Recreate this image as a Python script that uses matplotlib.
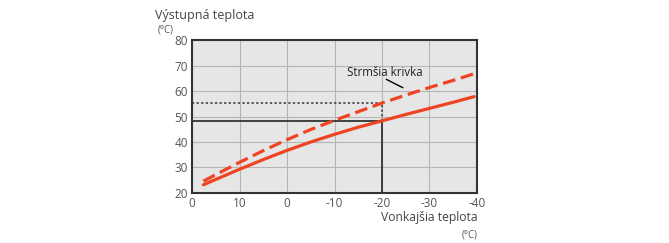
import matplotlib.pyplot as plt

plt.rcParams['font.family'] = ['Open Sans', 'DejaVu Sans']

# outdoor temperature (x) and supply temperature for the two curves
outdoor = [17.6, 15, 10, 5, 0, -5, -10, -15, -20, -25, -30, -35, -39.4]
normal_curve = [23.2, 25.3, 29.3, 33.1, 36.7, 40.0, 43.0, 45.8, 48.3, 50.8, 53.2, 55.6, 57.8]
steep_curve = [24.6, 27.2, 32.0, 36.6, 40.9, 44.9, 48.5, 51.9, 55.3, 58.4, 61.4, 64.2, 66.8]

x_ticks = [20, 10, 0, -10, -20, -30, -40]
x_tick_labels = ['0', '10', '0', '-10', '-20', '-30', '-40']
y_ticks = [20, 30, 40, 50, 60, 70, 80]

ref_x = -20
ref_normal = 48.3
ref_steep = 55.4

red = '#ee4423'
dark = '#333333'

fig = plt.figure(figsize=(6.69, 2.43), dpi=100)
ax = fig.add_axes([0.287, 0.206, 0.426, 0.629])
ax.set_facecolor('#e6e6e6')

ax.plot([x_ticks[0], ref_x], [ref_normal, ref_normal], color=dark, linewidth=1.3)
ax.plot([ref_x, ref_x], [20, ref_normal], color=dark, linewidth=1.3)
ax.plot([x_ticks[0], ref_x], [ref_steep, ref_steep], color=dark, linewidth=1.1, linestyle=(0, (1.5, 1.5)))
ax.plot([ref_x, ref_x], [ref_normal, ref_steep], color=dark, linewidth=1.1, linestyle=(0, (1.5, 1.5)))

ax.plot(outdoor, normal_curve, color=red, linewidth=2.3, solid_capstyle='round')
ax.plot(outdoor, steep_curve, color=red, linewidth=2.3, linestyle=(0, (4, 1.8)))

ax.text(-20.5, 67.1, 'Strmšia krivka', fontsize=8.3, color='#222222', ha='center', va='center')
ax.annotate('', xy=(-24.4, 61.3), xytext=(-20.9, 64.6),
            arrowprops=dict(arrowstyle='-', color='black', linewidth=1.0, shrinkA=0, shrinkB=0))

ax.set_xlim(20, -40)
ax.set_ylim(20, 80)
ax.set_xticks(x_ticks)
ax.set_xticklabels(x_tick_labels)
ax.set_yticks(y_ticks)
ax.grid(True, color='#b5b5b5', linewidth=0.8)
ax.set_axisbelow(True)
ax.tick_params(length=0, labelsize=8.5, labelcolor='#555555', pad=3)
for s in ax.spines.values():
    s.set_color(dark)
    s.set_linewidth(1.5)

fig.text(0.232, 0.935, 'Výstupná teplota', fontsize=9, color='#444444', ha='left', va='center')
fig.text(0.236, 0.875, '(°C)', fontsize=7, color='#555555', ha='left', va='center')
fig.text(0.714, 0.103, 'Vonkajšia teplota', fontsize=8.7, color='#444444', ha='right', va='center')
fig.text(0.714, 0.033, '(°C)', fontsize=7, color='#555555', ha='right', va='center')

fig.savefig('out.png', dpi=100, facecolor='white')
